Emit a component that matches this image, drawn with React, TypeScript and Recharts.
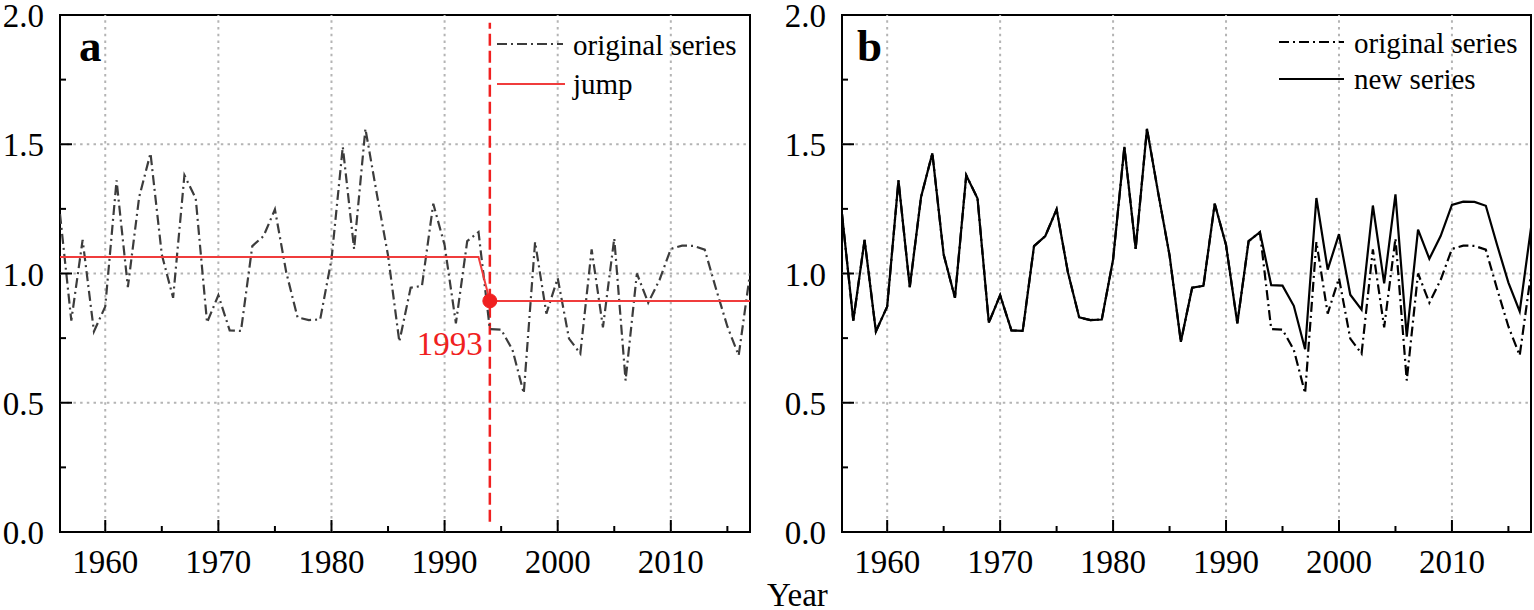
import React from 'react';
import { LineChart, Line, XAxis, YAxis, ReferenceLine, ReferenceArea, ReferenceDot, Legend } from 'recharts';

const years = [1956, 1957, 1958, 1959, 1960, 1961, 1962, 1963, 1964, 1965, 1966, 1967, 1968, 1969, 1970, 1971, 1972, 1973, 1974, 1975, 1976, 1977, 1978, 1979, 1980, 1981, 1982, 1983, 1984, 1985, 1986, 1987, 1988, 1989, 1990, 1991, 1992, 1993, 1994, 1995, 1996, 1997, 1998, 1999, 2000, 2001, 2002, 2003, 2004, 2005, 2006, 2007, 2008, 2009, 2010, 2011, 2012, 2013, 2014, 2015, 2016, 2017];

const originalSeries = [1.23, 0.818, 1.13, 0.776, 0.872, 1.36, 0.947, 1.296, 1.465, 1.073, 0.906, 1.38, 1.29, 0.81, 0.916, 0.78, 0.778, 1.106, 1.145, 1.248, 1.005, 0.83, 0.82, 0.822, 1.054, 1.49, 1.095, 1.56, 1.31, 1.07, 0.736, 0.945, 0.952, 1.27, 1.11, 0.807, 1.125, 1.16, 0.785, 0.783, 0.705, 0.537, 1.122, 0.845, 0.982, 0.748, 0.69, 1.093, 0.792, 1.136, 0.586, 1.0, 0.887, 0.975, 1.095, 1.108, 1.107, 1.092, 0.94, 0.795, 0.683, 1.0];

const newSeries = [1.23, 0.818, 1.13, 0.776, 0.872, 1.36, 0.947, 1.296, 1.465, 1.073, 0.906, 1.38, 1.29, 0.81, 0.916, 0.78, 0.778, 1.106, 1.145, 1.248, 1.005, 0.83, 0.82, 0.822, 1.054, 1.49, 1.095, 1.56, 1.31, 1.07, 0.736, 0.945, 0.952, 1.27, 1.11, 0.807, 1.125, 1.16, 0.955, 0.953, 0.875, 0.707, 1.292, 1.015, 1.152, 0.918, 0.86, 1.263, 0.962, 1.306, 0.756, 1.17, 1.057, 1.145, 1.265, 1.278, 1.277, 1.262, 1.11, 0.965, 0.853, 1.176];

const jumpYears = [1956, 1993, 1994, 2017];
const jumpLevels = [1.064, 1.064, 0.894, 0.894];

const changeYear = 1994;
const changeLevel = 0.894;
const changeLabel = '1993';

const xTicks = [1960, 1965, 1970, 1975, 1980, 1985, 1990, 1995, 2000, 2005, 2010, 2015];
const xGrid = [1960, 1970, 1980, 1990, 2000, 2010];
const yTicks = [0, 0.25, 0.5, 0.75, 1, 1.25, 1.5, 1.75, 2];
const yGrid = [0.5, 1, 1.5];

const rows = years.map((y, i) => ({ year: y, orig: originalSeries[i], neu: newSeries[i] }));
const jumpRows = jumpYears.map((y, i) => ({ year: y, jump: jumpLevels[i] }));

const FONT = "'Liberation Serif', 'Times New Roman', serif";
const DASHDOT = '10 4 2 4';
const GRID = '#b4b4b4';
const RED = '#f02020';
const JUMPRED = '#f03c3c';

const XTick = (props: any) => {
  const { x, y, payload } = props;
  const v = payload.value;
  const major = v % 10 === 0;
  return (
    <g>
      <line x1={x} x2={x} y1={y} y2={y - (major ? 12 : 6)} stroke="#000" strokeWidth={2} />
      {major && (
        <text x={x} y={y + 41} textAnchor="middle" fontFamily={FONT} fontSize={33} fill="#000">{v}</text>
      )}
    </g>
  );
};

const YTick = (props: any) => {
  const { x, y, payload } = props;
  const v = payload.value;
  const major = Math.abs(v * 2 - Math.round(v * 2)) < 1e-6;
  return (
    <g>
      <line x1={x} x2={x + (major ? 12 : 6)} y1={y} y2={y} stroke="#000" strokeWidth={2} />
      {major && (
        <text x={x - 16} y={y + 12} textAnchor="end" fontFamily={FONT} fontSize={33} fill="#000">{v.toFixed(1)}</text>
      )}
    </g>
  );
};

const panelLabel = (letter: string, dx: number) => (p: any) => {
  const vb = p.viewBox || {};
  return (
    <text x={(vb.x || 0) + dx} y={(vb.y || 0) + 46} fontFamily={FONT} fontWeight="bold" fontSize={45} fill="#000">{letter}</text>
  );
};

const LegendA = () => (
  <svg width={270} height={90} style={{ display: 'block' }}>
    <line x1={7} x2={73} y1={24} y2={24} stroke="#3c3c3c" strokeWidth={2} strokeDasharray={DASHDOT} />
    <text x={83} y={35} fontFamily={FONT} fontSize={29} fill="#000">original series</text>
    <line x1={7} x2={75} y1={64} y2={64} stroke={JUMPRED} strokeWidth={2} />
    <text x={83} y={74} fontFamily={FONT} fontSize={29} fill="#000">jump</text>
  </svg>
);

const LegendB = () => (
  <svg width={262} height={90} style={{ display: 'block' }}>
    <line x1={9} x2={74} y1={22} y2={22} stroke="#000" strokeWidth={2} strokeDasharray={DASHDOT} />
    <text x={84} y={33} fontFamily={FONT} fontSize={29} fill="#000">original series</text>
    <line x1={9} x2={74} y1={59} y2={59} stroke="#000" strokeWidth={2} />
    <text x={84} y={69} fontFamily={FONT} fontSize={29} fill="#000">new series</text>
  </svg>
);

const ChangeLabel = (p: any) => {
  const vb = p.viewBox || {};
  const cx = (vb.x || 0) + (vb.width || 0) / 2;
  const cy = (vb.y || 0) + (vb.height || 0) / 2;
  return (
    <text x={cx - 7} y={cy + 54} textAnchor="end" fontFamily={FONT} fontSize={33} fill={RED}>{changeLabel}</text>
  );
};

const commonAxes = (yWidth: number) => [
  <XAxis key="x" dataKey="year" type="number" domain={[1956, 2017]} ticks={xTicks} interval={0}
    allowDataOverflow tickSize={0} tickMargin={0} axisLine={false} tickLine={false} height={40} tick={<XTick />} />,
  <YAxis key="y" type="number" domain={[0, 2]} ticks={yTicks} interval={0} allowDataOverflow
    tickSize={0} tickMargin={0} axisLine={false} tickLine={false} width={yWidth} tick={<YTick />} />,
];

const gridLines = () => [
  ...xGrid.map((g) => (
    <ReferenceLine key={'gx' + g} x={g} stroke={GRID} strokeWidth={2} strokeDasharray="2.5 4.2" />
  )),
  ...yGrid.map((g) => (
    <ReferenceLine key={'gy' + g} y={g} stroke={GRID} strokeWidth={2} strokeDasharray="2.5 4.2" />
  )),
];

export default function App() {
  return (
    <div style={{ position: 'absolute', left: 0, top: 0, width: 1534, height: 610, background: '#fff' }}>
      <div style={{ position: 'absolute', left: 0, top: 0 }}>
        <LineChart width={760} height={610} data={rows} margin={{ top: 15, right: 10, bottom: 38, left: 0 }}>
          {commonAxes(60)}
          {gridLines()}
          <ReferenceArea x1={1956} x2={2017} y1={0} y2={2} fill="none" fillOpacity={0} stroke="#000" strokeWidth={2}
            ifOverflow="visible" label={panelLabel('a', 19)} />
          <ReferenceLine segment={[{ x: changeYear, y: 0.04 }, { x: changeYear, y: 1.97 }]} stroke={RED}
            strokeWidth={2.5} strokeDasharray="12 5" ifOverflow="visible" />
          <Line dataKey="orig" type="linear" stroke="#3c3c3c" strokeWidth={2.2} strokeDasharray={DASHDOT}
            dot={false} isAnimationActive={false} />
          <Line data={jumpRows} dataKey="jump" type="linear" stroke={JUMPRED} strokeWidth={2}
            dot={false} isAnimationActive={false} />
          <ReferenceDot x={changeYear} y={changeLevel} r={7} fill={RED} stroke={RED} ifOverflow="visible"
            label={ChangeLabel} />
          <Legend layout="horizontal" verticalAlign="middle" align="center"
            wrapperStyle={{ position: 'absolute', left: 490, top: 20, width: 270, height: 90 }}
            content={() => <LegendA />} />
        </LineChart>
      </div>
      <div style={{ position: 'absolute', left: 770, top: 0 }}>
        <LineChart width={764} height={610} data={rows} margin={{ top: 15, right: 3, bottom: 38, left: 0 }}>
          {commonAxes(72)}
          {gridLines()}
          <ReferenceArea x1={1956} x2={2017} y1={0} y2={2} fill="none" fillOpacity={0} stroke="#000" strokeWidth={2}
            ifOverflow="visible" label={panelLabel('b', 15)} />
          <Line dataKey="orig" type="linear" stroke="#000" strokeWidth={2.2} strokeDasharray={DASHDOT}
            dot={false} isAnimationActive={false} />
          <Line dataKey="neu" type="linear" stroke="#000" strokeWidth={2.2}
            dot={false} isAnimationActive={false} />
          <Legend layout="horizontal" verticalAlign="middle" align="center"
            wrapperStyle={{ position: 'absolute', left: 500, top: 20, width: 262, height: 90 }}
            content={() => <LegendB />} />
        </LineChart>
      </div>
      <svg width={1534} height={610} style={{ position: 'absolute', left: 0, top: 0, pointerEvents: 'none' }}>
        <text x={767} y={606} fontFamily={FONT} fontSize={33} fill="#000">Year</text>
      </svg>
    </div>
  );
}
